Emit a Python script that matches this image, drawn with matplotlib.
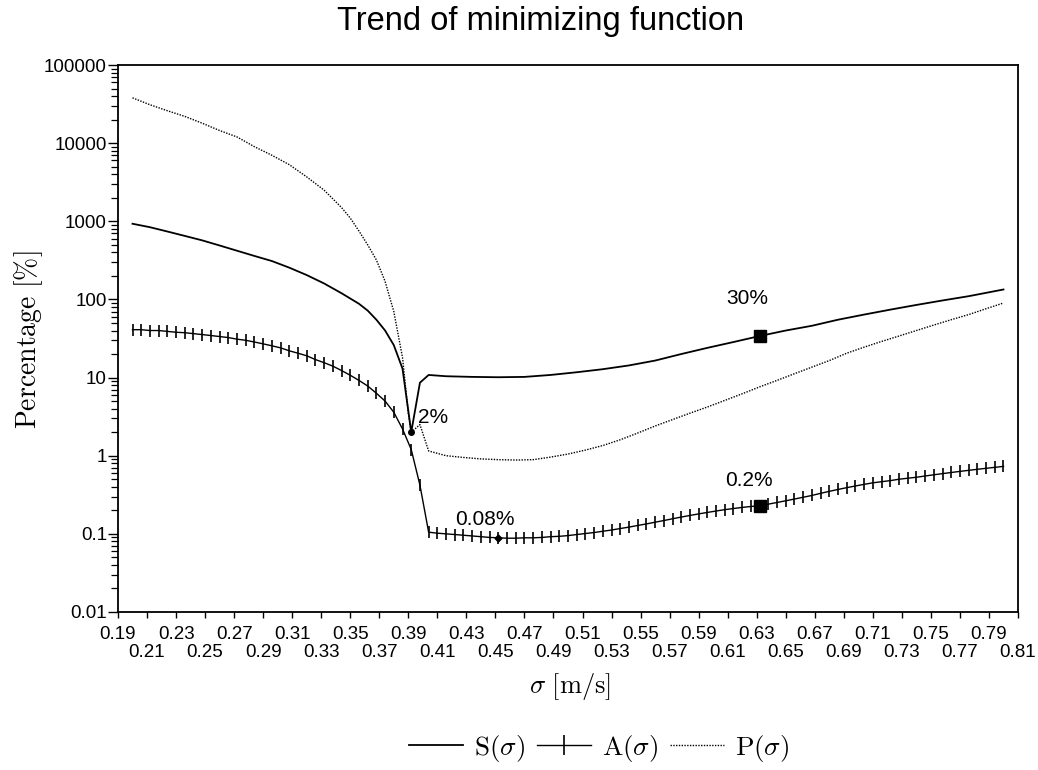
import numpy as np
import matplotlib
matplotlib.use('Agg')
import matplotlib.pyplot as plt
from matplotlib.lines import Line2D
from matplotlib.ticker import FixedLocator, FixedFormatter, LogLocator, NullFormatter

# ---------------- data ----------------
A_sigma = [round(0.20 + 0.006 * i, 3) for i in range(101)]
A_vals = [41, 41, 40, 40, 39, 38, 37.5, 36.5, 35.5, 34.5,
          33.5, 32.5, 31, 30, 28.5, 27, 25.5, 24, 22, 20.5,
          19, 17, 15.5, 14, 12.3, 10.7, 9.2, 7.8, 6.3, 5.0,
          3.6, 2.2, 1.2, 0.42, 0.105, 0.102, 0.100, 0.098, 0.096, 0.094,
          0.092, 0.090, 0.089, 0.088, 0.088, 0.089, 0.089, 0.090, 0.092, 0.093,
          0.095, 0.098, 0.101, 0.104, 0.108, 0.112, 0.117, 0.122, 0.128, 0.134,
          0.141, 0.148, 0.156, 0.164, 0.172, 0.180, 0.188, 0.196, 0.204, 0.211,
          0.218, 0.224, 0.229, 0.240, 0.252, 0.265, 0.279, 0.294, 0.31, 0.33,
          0.35, 0.37, 0.39, 0.41, 0.43, 0.45, 0.465, 0.48, 0.50, 0.515,
          0.53, 0.55, 0.57, 0.59, 0.61, 0.63, 0.65, 0.67, 0.69, 0.71,
          0.73]

S_sigma = [0.200, 0.212, 0.224, 0.236, 0.248, 0.260, 0.272, 0.284, 0.296, 0.308,
           0.320, 0.332, 0.344, 0.356, 0.362, 0.368, 0.374, 0.380, 0.386, 0.392,
           0.398, 0.404, 0.416, 0.434, 0.452, 0.470, 0.488, 0.506, 0.524, 0.542,
           0.560, 0.578, 0.596, 0.614, 0.632, 0.650, 0.668, 0.686, 0.704, 0.722,
           0.740, 0.758, 0.776, 0.800]
S_vals = [930, 840, 740, 650, 570, 490, 420, 360, 310, 255,
          205, 160, 120, 88, 72, 55, 40, 26, 13, 2.0,
          8.6, 10.8, 10.4, 10.2, 10.1, 10.2, 10.8, 11.7, 12.8, 14.3,
          16.5, 20, 24, 28.5, 34, 40, 46, 55, 64, 74,
          85, 97, 110, 134]

P_sigma = [0.200, 0.212, 0.224, 0.236, 0.248, 0.260, 0.272, 0.284, 0.296, 0.308,
           0.320, 0.332, 0.344, 0.350, 0.356, 0.362, 0.368, 0.374, 0.380, 0.386,
           0.390, 0.392, 0.398, 0.404, 0.416, 0.428, 0.440, 0.452, 0.464, 0.476,
           0.488, 0.500, 0.512, 0.524, 0.536, 0.548, 0.560, 0.572, 0.584, 0.596,
           0.608, 0.620, 0.632, 0.644, 0.656, 0.668, 0.680, 0.692, 0.704, 0.716,
           0.728, 0.740, 0.752, 0.764, 0.776, 0.788, 0.800]
P_vals = [38000, 31000, 26000, 22000, 18000, 14500, 12000, 9000, 7000, 5300,
          3700, 2500, 1500, 1100, 750, 500, 320, 170, 70, 18,
          3.5, 2.0, 2.5, 1.15, 1.0, 0.95, 0.91, 0.89, 0.88, 0.89,
          0.96, 1.05, 1.18, 1.35, 1.6, 1.95, 2.4, 2.9, 3.5, 4.2,
          5.1, 6.2, 7.6, 9.2, 11.2, 13.6, 16.5, 20.5, 24.5, 29,
          34, 40, 47, 55, 64, 76, 90]

x_ticks = [round(0.19 + 0.02 * i, 2) for i in range(32)]
x_tick_labels = ['%.2f' % v for v in x_ticks]
y_ticks = [0.01, 0.1, 1, 10, 100, 1000, 10000, 100000]
y_tick_labels = ['0.01', '0.1', '1', '10', '100', '1000', '10000', '100000']

series_names = [r'$\mathrm{S}(\sigma)$', r'$\mathrm{A}(\sigma)$', r'$\mathrm{P}(\sigma)$']
title = 'Trend of minimizing function'
xlabel = r'$\sigma\ [\mathrm{m/s}]$'
ylabel = r'$\mathrm{Percentage}\ [\%]$'

# highlighted points
mark_sigma = 0.632
min_sigma = 0.392
amin_sigma = 0.452

# ---------------- figure ----------------
plt.rcParams['mathtext.fontset'] = 'cm'
plt.rcParams['font.family'] = ['Liberation Sans', 'DejaVu Sans']

fig = plt.figure(figsize=(10.38, 7.70), dpi=100)
ax = fig.add_axes([118 / 1038, 1 - 612 / 770, 900 / 1038, 547 / 770])

ax.plot(S_sigma, S_vals, color='black', lw=1.3, zorder=3)
ax.plot(A_sigma, A_vals, color='black', lw=1.0, marker='|', markersize=8,
        markeredgewidth=1.2, zorder=3)
ax.plot(P_sigma, P_vals, color='black', lw=1.0, linestyle=(0, (1, 1)), zorder=3)

# highlighted markers
iS = S_sigma.index(mark_sigma)
iA = A_sigma.index(mark_sigma)
iSmin = S_sigma.index(min_sigma)
iAmin = A_sigma.index(amin_sigma)
ax.plot([S_sigma[iS]], [S_vals[iS]], marker='s', ms=8, color='black', zorder=5)
ax.plot([A_sigma[iA]], [A_vals[iA]], marker='s', ms=8, color='black', zorder=5)
ax.plot([S_sigma[iSmin]], [S_vals[iSmin]], marker='o', ms=4, color='black', zorder=5)
ax.plot([A_sigma[iAmin]], [A_vals[iAmin]], marker='D', ms=3.5, color='black', zorder=5)

ann_kw = dict(textcoords='offset points', ha='center', va='center', fontsize=15)
ax.annotate('30%', (S_sigma[iS], S_vals[iS]), xytext=(-9, 27), **ann_kw)
ax.annotate('0.2%', (A_sigma[iA], A_vals[iA]), xytext=(-8, 18), **ann_kw)
ax.annotate('2%', (S_sigma[iSmin], S_vals[iSmin]), xytext=(16, 10.5), **ann_kw)
ax.annotate('0.08%', (A_sigma[iAmin], A_vals[iAmin]), xytext=(-9.5, 13.5), **ann_kw)

ax.set_yscale('log')
ax.set_xlim(0.19, 0.81)
ax.set_ylim(0.01, 100000)

# x ticks: labels alternate between two rows
ax.xaxis.set_major_locator(FixedLocator(x_ticks[0::2]))
ax.xaxis.set_major_formatter(FixedFormatter(x_tick_labels[0::2]))
ax.xaxis.set_minor_locator(FixedLocator(x_ticks[1::2]))
ax.xaxis.set_minor_formatter(FixedFormatter(x_tick_labels[1::2]))
ax.yaxis.set_major_locator(FixedLocator(y_ticks))
ax.yaxis.set_major_formatter(FixedFormatter(y_tick_labels))
ax.yaxis.set_minor_locator(LogLocator(base=10, subs=np.arange(2, 10), numticks=20))
ax.yaxis.set_minor_formatter(NullFormatter())

ax.tick_params(axis='x', which='major', direction='out', length=4, width=1,
               labelsize=13.5, pad=6)
ax.tick_params(axis='x', which='minor', direction='out', length=4, width=1,
               labelsize=13.5, pad=19)
ax.tick_params(axis='y', which='major', direction='out', length=7, width=1,
               labelsize=13.5, pad=1)
ax.tick_params(axis='y', which='minor', direction='out', length=5, width=0.9)
for s in ax.spines.values():
    s.set_linewidth(1.3)

fig.text(541 / 1038, 1 - 30 / 770, title, ha='center', va='baseline', fontsize=23.5)
fig.text(570 / 1038, 1 - 686 / 770, xlabel, ha='center', va='center', fontsize=19)
fig.text(29 / 1038, 1 - 340 / 770, ylabel, ha='center', va='center', rotation=90,
         fontsize=20)

handles = [Line2D([], [], color='black', lw=1.3),
           Line2D([], [], color='black', lw=1.0, marker='|', markersize=14,
                  markeredgewidth=1.2),
           Line2D([], [], color='black', lw=1.0, linestyle=(0, (1, 1)))]
fig.legend(handles, series_names, loc='center', bbox_to_anchor=(599 / 1038, 1 - 748 / 770),
           ncol=3, frameon=False, fontsize=19.5, numpoints=1, handlelength=2.0,
           handletextpad=0.4, columnspacing=0.45)

fig.savefig('out.png', dpi=100)
